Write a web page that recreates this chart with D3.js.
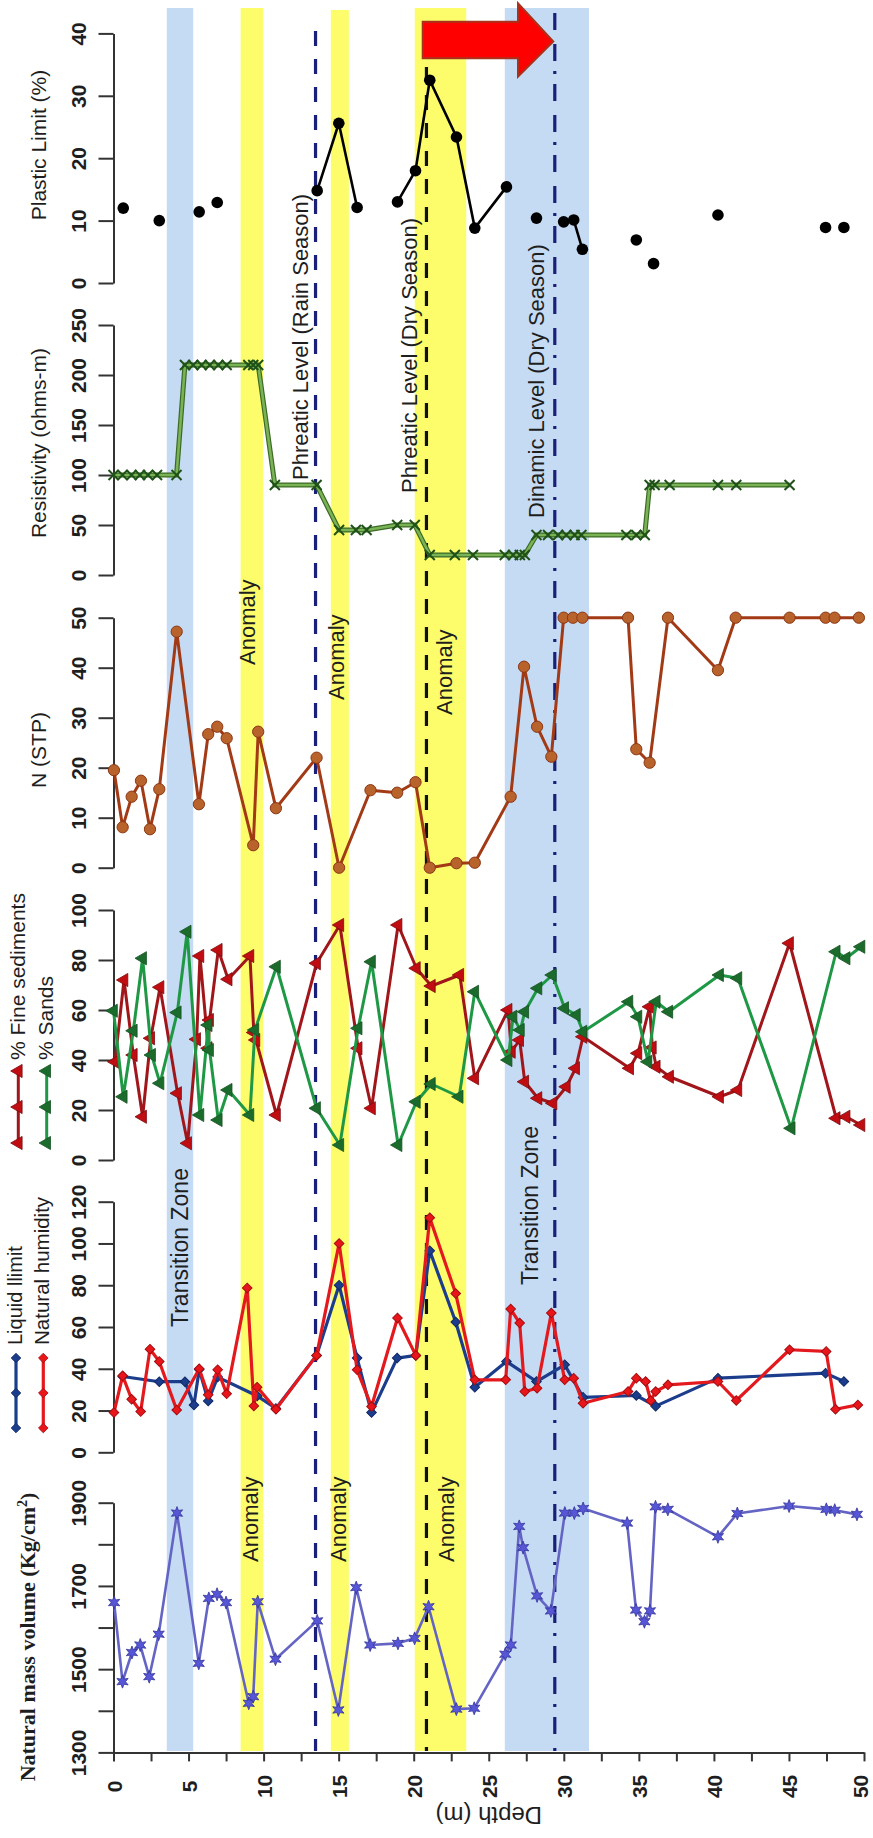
<!DOCTYPE html>
<html><head><meta charset="utf-8">
<script src="https://cdn.jsdelivr.net/npm/d3@7"></script>
<style>
body{margin:0;background:#fff}
svg{display:block;background:#fff}
text{font-family:"Liberation Sans",Arial,Helvetica,sans-serif;fill:#1e1e1e}
</style>
</head><body>
<svg id="chart" width="873" height="1838"></svg>
<script>
// ---------------- DATA ----------------
// Plastic limit (%) — isolated points and connected runs (group id)
const plDepth = [0.65, 3.05, 5.71, 6.91, 13.57, 15.01, 16.23, 18.92, 20.12, 21.07, 22.85, 24.07, 26.18, 28.18, 29.99, 30.66, 31.24, 34.83, 35.98, 40.27, 47.44, 48.66];
const plValue = [12.0, 10.0, 11.4, 12.9, 14.8, 25.6, 12.1, 13.0, 18.0, 32.5, 23.4, 8.8, 15.4, 10.4, 9.8, 10.1, 5.4, 6.9, 3.1, 10.9, 8.9, 8.9];
const plGroup = [1, 2, 3, 4, 5, 5, 5, 6, 6, 6, 6, 6, 6, 7, 8, 8, 8, 9, 10, 11, 12, 13];

// Resistivity (ohms-m)
const resDepth = [0, 0.6, 1.2, 1.76, 2.3, 2.9, 4.2, 4.76, 5.31, 5.87, 6.42, 6.98, 7.54, 8.98, 9.31, 9.64, 10.75, 13.53, 15.03, 16.15, 16.86, 18.9, 20.07, 21.07, 22.74, 23.95, 26.07, 26.62, 27.07, 27.4, 28.18, 28.95, 29.62, 30.17, 30.72, 31.17, 34.17, 34.83, 35.39, 35.72, 36.05, 37.05, 40.27, 41.49, 45.04];
const resValue = [100, 100, 100, 100, 100, 100, 100, 210, 210, 210, 210, 210, 210, 210, 210, 210, 90, 90, 45, 45, 45, 50, 50, 20, 20, 20, 20, 20, 20, 20, 40, 40, 40, 40, 40, 40, 40, 40, 40, 90, 90, 90, 90, 90, 90];

// N (STP)
const nDepth = [0.03, 0.61, 1.21, 1.83, 2.43, 3.05, 4.21, 5.69, 6.31, 6.91, 7.54, 9.31, 9.64, 10.82, 13.53, 15.03, 17.12, 18.9, 20.12, 21.07, 22.85, 24.07, 26.46, 27.35, 28.22, 29.17, 29.99, 30.61, 31.24, 34.28, 34.83, 35.72, 36.94, 40.27, 41.45, 45.04, 47.44, 48.04, 49.66];
const nValue = [19.5, 8.1, 14.2, 17.4, 7.7, 15.7, 47.2, 12.7, 26.7, 28.2, 25.9, 4.5, 27.2, 11.9, 22.0, 0, 15.5, 15.0, 17.1, 0, 0.9, 1.0, 14.2, 40.2, 28.2, 22.2, 50, 50, 50, 50, 23.7, 21.0, 50, 39.5, 50, 50, 50, 50, 50];

// % Fine sediments
const fineDepth = [0.1, 0.7, 1.32, 1.94, 2.48, 3.1, 4.27, 4.94, 5.54, 5.76, 6.31, 6.4, 6.98, 7.64, 9.09, 9.35, 9.49, 10.86, 13.53, 15.08, 16.3, 17.19, 18.96, 20.18, 21.18, 23.07, 24.07, 26.29, 26.51, 27.06, 27.4, 28.28, 29.28, 30.17, 30.79, 31.28, 34.39, 34.94, 35.72, 35.9, 36.16, 37.05, 40.38, 41.6, 45.04, 48.15, 48.81, 49.8];
const fineValue = [39.3, 72, 42, 17.3, 48.7, 69.1, 26.7, 6.7, 48.3, 81.6, 44.7, 56, 84, 72.3, 81.6, 51, 48, 18, 78.7, 94, 44.7, 20.7, 94, 76.7, 69.6, 74, 32.7, 60, 43.3, 48, 31.3, 24.7, 22.7, 29.3, 36.7, 49.3, 36.7, 42.7, 61.3, 45, 37.3, 33.3, 25.3, 28, 86.7, 16.7, 17.3, 14];

// % Sands
const sandDepth = [0, 0.65, 1.32, 1.94, 2.54, 3.1, 4.25, 4.91, 5.76, 6.31, 6.4, 6.98, 7.64, 9.09, 9.42, 10.86, 13.53, 15.08, 16.3, 17.19, 18.96, 20.18, 21.18, 23.03, 24.07, 26.29, 26.62, 27.11, 27.4, 28.28, 29.24, 30.06, 30.84, 31.28, 34.34, 34.94, 35.61, 36.16, 37.0, 40.38, 41.6, 45.15, 48.15, 48.81, 49.8];
const sandValue = [59.7, 25.3, 51.7, 80.7, 42, 30.7, 59, 91.3, 18, 54, 44, 16, 28, 18, 52, 77.3, 20.7, 6, 52.7, 79.3, 6, 23.3, 30.4, 25.3, 67.3, 40, 57.3, 52, 59.3, 68.7, 74, 60.7, 58, 51.3, 63.3, 57.3, 39.3, 63.3, 59.3, 74, 72.7, 12.7, 83.3, 80.7, 85.3];

// Liquid limit
const llDepth = [0.61, 3.05, 4.76, 5.36, 5.71, 6.31, 6.94, 9.57, 10.82, 13.53, 15.03, 16.23, 17.19, 18.9, 20.14, 21.07, 22.8, 24.07, 26.18, 28.18, 30.06, 31.28, 34.83, 36.12, 40.27, 47.44, 48.66];
const llValue = [36.3, 33.8, 33.8, 22.7, 39.6, 24.6, 36, 27, 21, 46.4, 80, 45.1, 19, 45.1, 46.4, 96.5, 62.4, 31.2, 43.5, 33.9, 41.9, 26.3, 27.2, 22.1, 35.5, 37.9, 33.9];

// Natural humidity
const nhDepth = [0.03, 0.61, 1.21, 1.81, 2.43, 3.05, 4.21, 5.71, 6.31, 6.94, 7.54, 8.91, 9.35, 9.57, 10.82, 13.53, 15.03, 16.23, 17.19, 18.92, 20.14, 21.07, 22.8, 24.07, 26.13, 26.46, 27.06, 27.4, 28.22, 29.17, 30.06, 30.66, 31.28, 34.28, 34.83, 35.45, 35.79, 36.12, 36.94, 40.27, 41.49, 45.04, 47.48, 48.1, 49.59];
const nhValue = [19, 36.6, 25.4, 19.5, 49.4, 43.5, 20.3, 40, 27.5, 39.5, 28, 78.7, 22.2, 31.2, 20.6, 46.4, 100, 39.5, 21.9, 64.3, 46.4, 112.3, 76, 34.7, 34.7, 68.6, 61.9, 29.1, 30.7, 66.7, 34.7, 35.5, 23.5, 29.1, 35.5, 33.9, 24.8, 29.1, 32.3, 33.9, 24.8, 49.1, 48.3, 20.6, 22.7];

// Natural mass volume (Kg/cm2)
const mvDepth = [0.04, 0.6, 1.23, 1.78, 2.38, 3.01, 4.23, 5.68, 6.35, 6.9, 7.5, 9.01, 9.31, 9.61, 10.79, 13.57, 14.98, 16.17, 17.1, 18.95, 20.06, 20.99, 22.84, 24.03, 26.1, 26.47, 27.03, 27.29, 28.22, 29.14, 30.07, 30.7, 31.29, 34.22, 34.81, 35.37, 35.74, 36.11, 36.93, 40.27, 41.56, 45.01, 47.49, 48.05, 49.53];
const mvValue = [1660, 1470, 1540, 1558, 1482, 1584, 1875, 1514, 1670, 1680, 1660, 1418, 1434, 1662, 1524, 1616, 1402, 1696, 1558, 1562, 1574, 1650, 1404, 1406, 1536, 1558, 1843, 1792, 1676, 1640, 1875, 1875, 1886, 1851, 1642, 1614, 1640, 1890, 1884, 1818, 1874, 1892, 1884, 1882, 1872];

// Axis ticks
const depthTicks = d3.range(0, 50.01, 2.5);
const depthLabels = d3.range(0, 50.01, 5);
const plTicks = [0, 10, 20, 30, 40];
const resTicks = [0, 50, 100, 150, 200, 250];
const nTicks = [0, 10, 20, 30, 40, 50];
const sandTicks = [0, 20, 40, 60, 80, 100];
const llTicks = [0, 20, 40, 60, 80, 100, 120];
const mvTicks = [1300, 1400, 1500, 1600, 1700, 1800, 1900];
const mvLabels = [1300, 1500, 1700, 1900];

// Shaded zones (depth, m)
const bandStart = [3.55, 8.47, 14.48, 20.07, 26.07];
const bandEnd = [5.31, 9.97, 15.68, 23.5, 31.68];
const bandKind = ["transition", "anomaly", "anomaly", "anomaly", "transition"];

// Water levels (depth, m)
const levelDepth = [13.46, 20.85, 29.4];
const levelLabel = ["Phreatic Level (Rain Season)", "Phreatic Level (Dry Season)", "Dinamic Level (Dry Season)"];

// ---------------- LAYOUT ----------------
const svg = d3.select("#chart");
const x = d3.scaleLinear().domain([0, 50]).range([113.5, 864]);
const yPL = d3.scaleLinear().domain([0, 40]).range([283, 33.4]);
const yRes = d3.scaleLinear().domain([0, 250]).range([575, 325]);
const yN = d3.scaleLinear().domain([0, 50]).range([867.7, 617.7]);
const ySand = d3.scaleLinear().domain([0, 100]).range([1160, 910]);
const yLL = d3.scaleLinear().domain([0, 120]).range([1452.3, 1201.7]);
const yMV = d3.scaleLinear().domain([1300, 1900]).range([1752.4, 1502.7]);
const plotTop = 8, plotBottom = 1751;

// Bands
const bandColor = {transition: "#c5dbf4", anomaly: "#fdfd6c"};
svg.append("g").selectAll("rect").data(bandStart.map((s, i) => ({s, e: bandEnd[i], k: bandKind[i]})))
  .join("rect")
  .attr("x", d => x(d.s)).attr("width", d => x(d.e) - x(d.s))
  .attr("y", (d, i) => i === 2 ? plotTop + 2 : plotTop)
  .attr("height", (d, i) => plotBottom - (i === 2 ? plotTop + 2 : plotTop))
  .attr("fill", d => bandColor[d.k]);

// Level lines
const levelStyle = [
  {color: "#1a1f7a", dash: "15,13", top: 31},
  {color: "#111111", dash: "15,13", top: 67},
  {color: "#1a1f7a", dash: "17,14,17,10,3,10", top: 13}
];
svg.append("g").selectAll("line").data(levelDepth).join("line")
  .attr("x1", d => x(d)).attr("x2", d => x(d))
  .attr("y1", (d, i) => levelStyle[i].top).attr("y2", plotBottom)
  .attr("stroke", (d, i) => levelStyle[i].color)
  .attr("stroke-width", 3.2)
  .attr("stroke-dasharray", (d, i) => levelStyle[i].dash);

// Rotated annotation text helper (reads bottom-to-top)
function vtext(depth, yStart, str, size, anchor) {
  svg.append("text")
    .attr("transform", `translate(${x(depth)},${yStart}) rotate(-90)`)
    .attr("text-anchor", anchor || "start")
    .attr("font-size", size)
    .text(str);
}
const levelTextDepth = [12.96, 20.22, 28.68];
const levelTextStart = [480, 493, 518];
levelLabel.forEach((t, i) => vtext(levelTextDepth[i], levelTextStart[i], t, 22));

const anomalyDepthTop = [9.43, 15.36, 22.55];
const anomalyStartTop = [665, 700, 715];
const anomalyDepthBot = [9.63, 15.49, 22.68];
anomalyDepthTop.forEach((d, i) => vtext(d, anomalyStartTop[i], "Anomaly", 22));
anomalyDepthBot.forEach(d => vtext(d, 1562, "Anomaly", 22));
vtext(4.96, 1327, "Transition Zone", 23);
vtext(28.28, 1285, "Transition Zone", 23);

// ---------------- AXES ----------------
function yAxis(scale, ticks, labels) {
  const g = svg.append("g").attr("transform", `translate(${x(0)},0)`)
    .call(d3.axisLeft(scale).tickValues(ticks).tickSize(15).tickSizeOuter(0)
      .tickFormat(d => labels.includes(d) ? d : ""));
  g.select(".domain").attr("stroke", "#333").attr("stroke-width", 2);
  g.selectAll(".tick line").attr("stroke", "#333").attr("stroke-width", 2);
  g.selectAll(".tick text").attr("x", null).attr("dy", null)
    .attr("transform", "translate(-28,0) rotate(-90)")
    .attr("text-anchor", "middle").attr("font-size", 21).attr("font-weight", "bold")
    .attr("font-family", '"Liberation Sans",Arial,sans-serif').attr("fill", "#222");
}
yAxis(yPL, plTicks, plTicks);
yAxis(yRes, resTicks, resTicks);
yAxis(yN, nTicks, nTicks);
yAxis(ySand, sandTicks, sandTicks);
yAxis(yLL, llTicks, llTicks);
yAxis(yMV, mvTicks, mvLabels);

const gx = svg.append("g").attr("transform", `translate(0,${yMV(1300)})`)
  .call(d3.axisBottom(x).tickValues(depthTicks).tickSize(9).tickSizeOuter(0)
    .tickFormat(d => depthLabels.includes(d) ? d : ""));
gx.select(".domain").attr("stroke", "#333").attr("stroke-width", 2);
gx.selectAll(".tick line").attr("stroke", "#333").attr("stroke-width", 2);
gx.selectAll(".tick text").attr("y", null).attr("dy", null)
  .attr("transform", d => `translate(${d === 50 ? 3.5 : 7.5},34) rotate(-90)`)
  .attr("text-anchor", "middle").attr("font-size", 21).attr("font-weight", "bold")
  .attr("font-family", '"Liberation Sans",Arial,sans-serif').attr("fill", "#222");

svg.append("text").attr("transform", `translate(${(x(0) + x(50)) / 2},1807) rotate(180)`)
  .attr("text-anchor", "middle").attr("font-size", 24).text("Depth (m)");

// Panel titles
function title(yc, str) {
  svg.append("text").attr("transform", `translate(46,${yc}) rotate(-90)`)
    .attr("text-anchor", "middle").attr("font-size", 21).text(str);
}
title(145, "Plastic Limit (%)");
title(443, "Resistivity (ohms-m)");
title(750, "N (STP)");

const mvt = svg.append("text").attr("transform", "translate(35,1637) rotate(-90)")
  .attr("text-anchor", "middle").attr("font-size", 22).attr("font-weight", "bold")
  .style("font-family", '"Liberation Serif","Times New Roman",serif');
mvt.append("tspan").text("Natural mass volume (Kg/cm");
mvt.append("tspan").attr("dy", -8).attr("font-size", 14).text("2");
mvt.append("tspan").attr("dy", 8).text(")");

// ---------------- SYMBOLS ----------------
function starPath(R, r, n) {
  const pts = [];
  for (let i = 0; i < 2 * n; i++) {
    const a = -Math.PI / 2 + i * Math.PI / n;
    const rr = i % 2 === 0 ? R : r;
    pts.push([rr * Math.cos(a), rr * Math.sin(a)]);
  }
  return "M" + pts.map(p => p[0].toFixed(2) + "," + p[1].toFixed(2)).join("L") + "Z";
}
const xPath = s => `M${-s},${-s}L${s},${s}M${-s},${s}L${s},${-s}`;
const triPath = d3.symbol(d3.symbolTriangle, 75)();
const diaPath = d3.symbol(d3.symbolSquare, 46)();

function zip(ds, vs) { return ds.map((d, i) => ({d, v: vs[i]})); }

function series(data, y, o) {
  const g = svg.append("g");
  const line = d3.line().x(p => x(p.d)).y(p => y(p.v));
  if (o.under) g.append("path").attr("d", line(data)).attr("fill", "none")
    .attr("stroke", o.under).attr("stroke-width", o.underWidth).attr("stroke-linejoin", "round");
  if (o.line) g.append("path").attr("d", line(data)).attr("fill", "none")
    .attr("stroke", o.line).attr("stroke-width", o.width).attr("stroke-linejoin", "round");
  g.selectAll("path.m").data(data).join("path").attr("class", "m")
    .attr("transform", p => `translate(${x(p.d)},${y(p.v)}) rotate(${o.rot || 0})`)
    .attr("d", o.shape)
    .attr("fill", o.fill || "none")
    .attr("stroke", o.stroke || "none")
    .attr("stroke-width", o.sw || 1);
  return g;
}

// Plastic limit: runs + isolated points
const plData = plDepth.map((d, i) => ({d, v: plValue[i], g: plGroup[i]}));
const plG = svg.append("g");
d3.groups(plData, p => p.g).forEach(([k, pts]) => {
  if (pts.length > 1) plG.append("path")
    .attr("d", d3.line().x(p => x(p.d)).y(p => yPL(p.v))(pts))
    .attr("fill", "none").attr("stroke", "#000").attr("stroke-width", 2.6);
});
plG.selectAll("circle").data(plData).join("circle")
  .attr("cx", p => x(p.d)).attr("cy", p => yPL(p.v)).attr("r", 5.8).attr("fill", "#000");

// Resistivity
series(zip(resDepth, resValue), yRes, {under: "#3c6b25", underWidth: 5, line: "#7ab356", width: 2.6,
  shape: xPath(5), stroke: "#1f5218", sw: 2});

// N (STP)
series(zip(nDepth, nValue), yN, {line: "#a23a16", width: 3,
  shape: d3.symbol(d3.symbolCircle, 100)(), fill: "#b8622c", stroke: "#8c3614", sw: 1});

// Fine sediments & sands
series(zip(fineDepth, fineValue), ySand, {line: "#a0161a", width: 3,
  shape: triPath, rot: -90, fill: "#c00d12", stroke: "#7a0a0c", sw: 0.8});
series(zip(sandDepth, sandValue), ySand, {line: "#1f9845", width: 3,
  shape: triPath, rot: -90, fill: "#1b6b2c", stroke: "#14501f", sw: 0.8});

// Liquid limit & natural humidity
series(zip(llDepth, llValue), yLL, {line: "#1b3d8c", width: 3.2,
  shape: diaPath, rot: 45, fill: "#1b3d8c", stroke: "#112a66", sw: 1});
series(zip(nhDepth, nhValue), yLL, {line: "#e3191d", width: 3.2,
  shape: diaPath, rot: 45, fill: "#e8161b", stroke: "#a50d10", sw: 1});

// Natural mass volume
series(zip(mvDepth, mvValue), yMV, {line: "#6464c4", width: 2.6,
  shape: starPath(6.5, 3, 6), fill: "#5656d6", stroke: "#33339a", sw: 0.8});

// ---------------- LEGENDS ----------------
function legendItem(lx, ys, color, width, shape, rot, fill, stroke) {
  svg.append("line").attr("x1", lx).attr("x2", lx).attr("y1", ys[0]).attr("y2", ys[2])
    .attr("stroke", color).attr("stroke-width", width);
  svg.append("g").selectAll("path").data(ys).join("path")
    .attr("transform", yy => `translate(${lx},${yy}) rotate(${rot})`)
    .attr("d", shape).attr("fill", fill).attr("stroke", stroke).attr("stroke-width", 0.8);
}
legendItem(18.3, [1143, 1107, 1071], "#a0161a", 3, triPath, -90, "#c00d12", "#7a0a0c");
legendItem(46.7, [1143, 1107, 1071], "#1f9845", 3, triPath, -90, "#1b6b2c", "#14501f");
svg.append("text").attr("transform", "translate(25,1060) rotate(-90)").attr("font-size", 21).text("% Fine sediments");
svg.append("text").attr("transform", "translate(53,1060) rotate(-90)").attr("font-size", 21).text("% Sands");

legendItem(16, [1428, 1393, 1358], "#1b3d8c", 3.2, diaPath, 45, "#1b3d8c", "#112a66");
legendItem(43.3, [1428, 1393, 1358], "#e3191d", 3.2, diaPath, 45, "#e8161b", "#a50d10");
svg.append("text").attr("transform", "translate(22,1345) rotate(-90)").attr("font-size", 20).text("Liquid llimit");
svg.append("text").attr("transform", "translate(49,1345) rotate(-90)").attr("font-size", 20.5).text("Natural humidity");

// ---------------- ARROW ----------------
const arrowFrom = 20.6, arrowNeck = 26.95, arrowTip = 29.3;
const ac = 40;
const arrowPts = [
  [x(arrowFrom), ac - 18.3], [x(arrowNeck), ac - 18.3], [x(arrowNeck), ac - 36.7],
  [x(arrowTip), ac + 1.5], [x(arrowNeck), ac + 36.7], [x(arrowNeck), ac + 18.3], [x(arrowFrom), ac + 18.3]
];
svg.append("path").attr("d", "M" + arrowPts.map(p => p.join(",")).join("L") + "Z")
  .attr("fill", "#ff0000").attr("stroke", "#a8321c").attr("stroke-width", 2);
</script>
</body></html>
